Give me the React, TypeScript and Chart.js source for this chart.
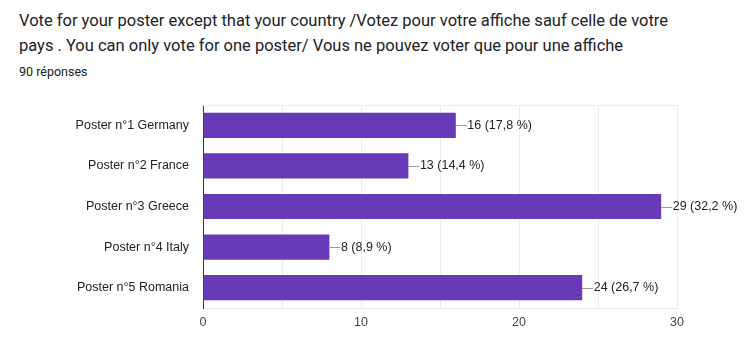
import React, { useEffect, useRef } from "react";
import { Chart, registerables } from "chart.js";

Chart.register(...registerables);

const categories = [
  "Poster n°1 Germany",
  "Poster n°2 France",
  "Poster n°3 Greece",
  "Poster n°4 Italy",
  "Poster n°5 Romania",
];
const votes = [16, 13, 29, 8, 24];
const percentLabels = ["17,8 %", "14,4 %", "32,2 %", "8,9 %", "26,7 %"];
const xTickValues = [0, 10, 20, 30];

const titleText =
  "Vote for your poster except that your country /Votez pour votre affiche sauf celle de votre pays . You can only vote for one poster/ Vous ne pouvez voter que pour une affiche";
const subtitleText = "90 réponses";

const W = 749;
const H = 351;

const valueLabelPlugin = {
  id: "valueLabels",
  afterDatasetsDraw(chart: any) {
    const ctx = chart.ctx;
    const meta = chart.getDatasetMeta(0);
    ctx.save();
    ctx.font = "12.5px Arial, 'Liberation Sans', sans-serif";
    ctx.textBaseline = "middle";
    ctx.textAlign = "left";
    meta.data.forEach((bar: any, i: number) => {
      const x = bar.x;
      const y = bar.y;
      ctx.strokeStyle = "#999999";
      ctx.lineWidth = 1;
      ctx.beginPath();
      ctx.moveTo(x, Math.round(y) + 0.5);
      ctx.lineTo(x + 11, Math.round(y) + 0.5);
      ctx.stroke();
      ctx.fillStyle = "#222222";
      ctx.fillText(`${votes[i]} (${percentLabels[i]})`, x + 11.5, y);
    });
    ctx.restore();
  },
};

const frameTopPlugin = {
  id: "frameTop",
  beforeDatasetsDraw(chart: any) {
    const { ctx, chartArea } = chart;
    ctx.save();
    ctx.strokeStyle = "#ebebeb";
    ctx.lineWidth = 1;
    ctx.beginPath();
    ctx.moveTo(chartArea.left, chartArea.top + 0.5);
    ctx.lineTo(chartArea.right, chartArea.top + 0.5);
    ctx.stroke();
    ctx.restore();
  },
};

export default function App() {
  const ref = useRef<HTMLCanvasElement>(null);
  useEffect(() => {
    if (!ref.current) return;
    const chart = new Chart(ref.current, {
      type: "bar",
      data: {
        labels: categories,
        datasets: [
          {
            data: votes,
            backgroundColor: "#673ab7",
            borderWidth: 0,
            barPercentage: 0.62,
            categoryPercentage: 1,
          },
        ],
      },
      options: {
        indexAxis: "y",
        animation: false,
        responsive: false,
        maintainAspectRatio: false,
        layout: { padding: { left: 0, right: 72, top: 105, bottom: 0 } },
        plugins: {
          legend: { display: false },
          tooltip: { enabled: false },
          title: { display: false },
        },
        scales: {
          x: {
            min: 0,
            max: 30,
            ticks: {
              stepSize: 5,
              padding: 7,
              color: "#444444",
              font: { family: "Arial, 'Liberation Sans', sans-serif", size: 12.5 },
              callback: (v: any) => (xTickValues.includes(Number(v)) ? String(v) : ""),
            },
            grid: { color: "#ebebeb", drawTicks: false },
            border: { color: "#ebebeb" },
            afterFit: (s: any) => {
              s.height = 43;
            },
          },
          y: {
            ticks: {
              padding: 14,
              color: "#222222",
              font: { family: "Arial, 'Liberation Sans', sans-serif", size: 12.5 },
            },
            grid: { display: false, drawTicks: false },
            border: { color: "#333333", width: 1 },
            afterFit: (s: any) => {
              s.width = 203;
            },
          },
        },
      },
      plugins: [valueLabelPlugin, frameTopPlugin],
    });
    return () => chart.destroy();
  }, []);

  return (
    <div style={{ position: "absolute", left: 0, top: 0, width: W, height: H, background: "#fff", overflow: "hidden" }}>
      <div
        style={{
          position: "absolute",
          left: 19,
          top: 8,
          width: 665,
          fontFamily: "Roboto, 'Noto Sans', sans-serif",
          fontSize: 16.5,
          lineHeight: "25px",
          color: "#202124",
        }}
      >
        {titleText}
      </div>
      <div
        style={{
          position: "absolute",
          left: 19,
          top: 64,
          fontFamily: "Roboto, 'Noto Sans', sans-serif",
          fontSize: 12.5,
          lineHeight: "16px",
          color: "#202124",
        }}
      >
        {subtitleText}
      </div>
      <canvas ref={ref} width={W} height={H} style={{ position: "absolute", left: 0, top: 0 }} />
    </div>
  );
}
